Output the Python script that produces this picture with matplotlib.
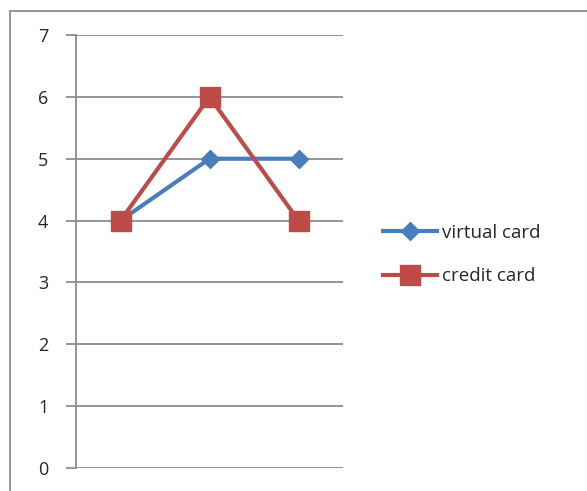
import matplotlib.pyplot as plt
from matplotlib.patches import Rectangle

categories = [1, 2, 3]
virtual_card = [4, 5, 5]
credit_card = [4, 6, 4]
y_ticks = [0, 1, 2, 3, 4, 5, 6, 7]

plt.rcParams['font.family'] = ['Open Sans', 'DejaVu Sans']

fig = plt.figure(figsize=(5.87, 4.91), dpi=100)
ax = fig.add_axes([76 / 587, 23 / 491, 267 / 587, 433 / 491])

pos = list(range(len(categories)))
ax.plot(pos, virtual_card, color='#4A7EBB', linewidth=3, marker='D',
        markersize=9, label='virtual card', zorder=3)
ax.plot(pos, credit_card, color='#BE4B48', linewidth=3, marker='s',
        markersize=14, label='credit card', zorder=4)

ax.set_xlim(-0.5, 2.5)
ax.set_ylim(0, 7)
ax.set_yticks(y_ticks)
ax.set_xticks([])
ax.yaxis.grid(True, color='#8c8c8c', linewidth=1.3)
ax.set_axisbelow(True)
for s in ['top', 'right', 'bottom']:
    ax.spines[s].set_visible(False)
ax.spines['left'].set_color('#8c8c8c')
ax.spines['left'].set_linewidth(1.3)
ax.tick_params(axis='y', length=7, width=1.3, color='#8c8c8c', pad=13,
               labelsize=13, labelcolor='#262626')

fig.legend(loc='center left', bbox_to_anchor=(383 / 587, 236.5 / 491),
           frameon=False, borderpad=0, borderaxespad=0, fontsize=13.5,
           handlelength=2.9, handletextpad=0.25, labelspacing=1.35,
           labelcolor='#262626')

# outer chart border
fig.add_artist(Rectangle((10 / 587, -0.1), 1.2, 0.1 + 480 / 491,
                         transform=fig.transFigure, fill=False,
                         edgecolor='#8c8c8c', linewidth=1.3))

fig.savefig('out.png', dpi=100)
